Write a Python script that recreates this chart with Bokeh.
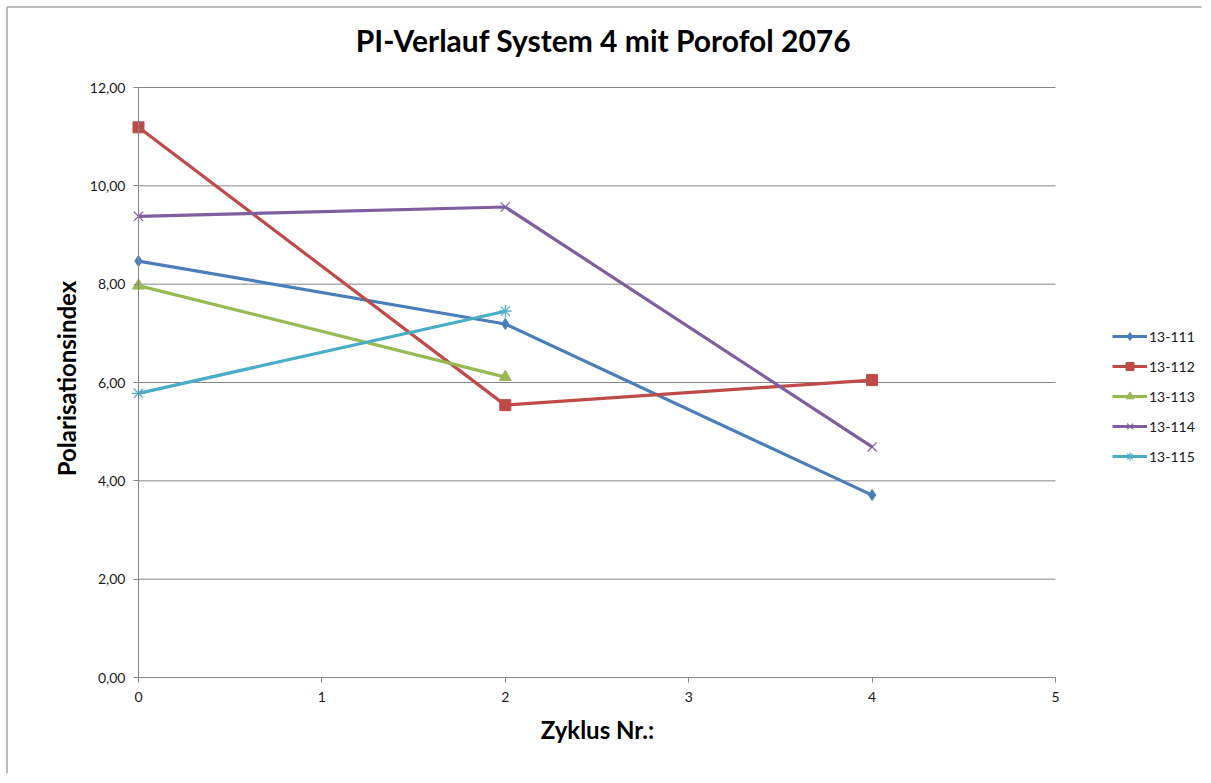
import math
from bokeh.plotting import figure
from bokeh.models import Legend, LegendItem, CustomJSTickFormatter, FixedTicker, Range1d, Label
from bokeh.embed import file_html
from bokeh.resources import INLINE

cycles = [0, 2, 4]
series_names = ["13-111", "13-112", "13-113", "13-114", "13-115"]
s111 = [8.47, 7.19, 3.71]
s112 = [11.19, 5.54, 6.05]
s113 = [7.97, 6.11]
s114 = [9.38, 9.57, 4.69]
s115 = [5.78, 7.45]
colors = ["#4A7EBB", "#BE4B48", "#98B954", "#7D5FA0", "#4BACC6"]
markers = ["diamond", "square", "triangle", "x", "asterisk"]
y_ticks = [0, 2, 4, 6, 8, 10, 12]
x_ticks = [0, 1, 2, 3, 4, 5]
title_text = "PI-Verlauf System 4 mit Porofol 2076"
x_title = "Zyklus Nr.:"
y_title = "Polarisationsindex"

FONT = "Lato"

# layout (pixels)
W, H = 1203, 775
PX_LEFT, PX_RIGHT = 138, 1055      # pixel columns of x = 0 and x = 5
PX_BOTTOM, PX_TOP = 677, 87        # pixel rows of y = 0 and y = 12
x_min, x_max = x_ticks[0], x_ticks[-1]
y_min, y_max = y_ticks[0], y_ticks[-1]
xs_per_px = (x_max - x_min) / (PX_RIGHT - PX_LEFT)
ys_per_px = (y_max - y_min) / (PX_BOTTOM - PX_TOP)

def px_to_x(px):
    return x_min + (px - PX_LEFT) * xs_per_px

def py_to_y(py):
    return y_min + (PX_BOTTOM - py) * ys_per_px

p = figure(width=W, height=H, output_backend="svg", toolbar_location=None,
           x_range=Range1d(px_to_x(0), px_to_x(W)), y_range=Range1d(py_to_y(H), py_to_y(0)),
           min_border_left=0, min_border_right=0, min_border_top=0, min_border_bottom=0)
p.outline_line_color = None
p.xgrid.grid_line_color = None
p.ygrid.grid_line_color = None

# outer chart border (only top and left edges fall inside the picture)
p.segment(x0=[px_to_x(6.5), px_to_x(6.5)], y0=[py_to_y(6.5), py_to_y(6.5)],
          x1=[px_to_x(W - 2), px_to_x(6.5)], y1=[py_to_y(6.5), py_to_y(H - 2)],
          line_color="#A6A6A6", line_width=1.5)

# horizontal gridlines limited to the data area
p.segment(x0=[x_min] * len(y_ticks), y0=y_ticks, x1=[x_max] * len(y_ticks), y1=y_ticks,
          line_color="#868686", line_width=1)

for ax in (p.xaxis[0], p.yaxis[0]):
    ax.fixed_location = 0
    ax.axis_line_color = "#868686"
    ax.major_tick_line_color = "#868686"
    ax.minor_tick_line_color = None
    ax.major_tick_out = 5
    ax.major_tick_in = 0
    ax.major_label_text_font = FONT
    ax.major_label_text_font_size = "14px"
    ax.major_label_text_color = "#1a1a1a"

p.xaxis.bounds = (x_min, x_max)
p.yaxis.bounds = (y_min, y_max)
p.yaxis.ticker = FixedTicker(ticks=y_ticks)
p.xaxis.ticker = FixedTicker(ticks=x_ticks)
p.yaxis.formatter = CustomJSTickFormatter(code="return tick.toFixed(2).replace('.', ',');")
p.yaxis.major_label_standoff = 8
p.xaxis.major_label_standoff = 9

data = [s111, s112, s113, s114, s115]
items = []
for name, vals, col, mk in zip(series_names, data, colors, markers):
    xs = cycles[:len(vals)]
    r1 = p.line(xs, vals, line_color=col, line_width=3.2)
    if mk in ("x", "asterisk"):
        r2 = p.scatter(xs, vals, marker=mk, size=13, line_color=col, line_width=1.2)
    else:
        sz = 11 if mk != "triangle" else 12
        r2 = p.scatter(xs, vals, marker=mk, size=sz, fill_color=col, line_color=col)
    items.append(LegendItem(label=name, renderers=[r1, r2]))

legend = Legend(items=items, location=(1112, H - 466), padding=0, margin=0,
                glyph_width=35, glyph_height=20, spacing=10, label_standoff=2,
                label_text_font=FONT, label_text_font_size="14px", label_text_color="#1a1a1a",
                border_line_color=None, background_fill_alpha=0)
p.add_layout(legend, "center")

def screen_label(text, px, py, size, angle=0.0):
    return Label(x=px, y=H - py, x_units="screen", y_units="screen", text=text, angle=angle,
                 text_font=FONT, text_font_style="bold", text_font_size=size,
                 text_align="center", text_baseline="middle", text_color="#000000")

p.add_layout(screen_label(title_text, 603, 39, "30px"))
p.add_layout(screen_label(x_title, 597, 729, "24px"))
p.add_layout(screen_label(y_title, 66, 378, "24px", angle=math.pi / 2))

open("out.html", "w").write(file_html(p, INLINE))
